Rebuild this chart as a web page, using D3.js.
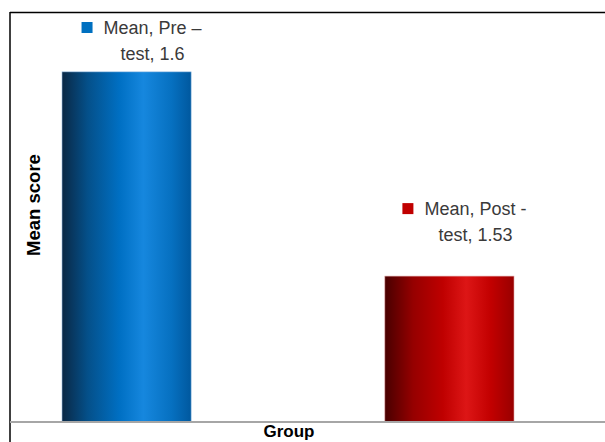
<!DOCTYPE html>
<html><head><meta charset="utf-8">
<script src="https://cdn.jsdelivr.net/npm/d3@7"></script>
<style>body{margin:0;background:#fff}svg{display:block}</style>
</head><body>
<svg id="c" width="605" height="442"></svg>
<script>
const groups = ["Pre – test", "Post - test"];
const labelLine1 = ["Mean, Pre –", "Mean, Post -"];
const labelLine2 = ["test, 1.6", "test, 1.53"];
const means = [1.6, 1.53];
const yDomain = [1.48, 1.62];

const svg = d3.select("#c");
const x = d3.scaleBand().domain(groups).range([62, 514]).paddingInner(0.6).paddingOuter(0);
const y = d3.scaleLinear().domain(yDomain).range([422, 13.5]);

const defs = svg.append("defs");
const grads = [
  [[0,"#0a2845"],[0.2,"#04508a"],[0.45,"#0070c4"],[0.63,"#1687de"],[0.85,"#0670c0"],[1,"#00589e"]],
  [[0,"#480000"],[0.22,"#960000"],[0.45,"#bf0000"],[0.63,"#dd1616"],[0.82,"#c20000"],[1,"#980000"]]
];
const swatch = ["#0070c0", "#c00000"];
grads.forEach((stops,i)=>{
  const g = defs.append("linearGradient").attr("id","g"+i).attr("x1","0").attr("x2","1").attr("y1","0").attr("y2","0");
  stops.forEach(s=>g.append("stop").attr("offset",s[0]).attr("stop-color",s[1]));
});

// frame
svg.append("line").attr("x1",10).attr("x2",605).attr("y1",12.5).attr("y2",12.5).attr("stroke","#000").attr("stroke-width",1.5);
svg.append("line").attr("x1",10).attr("x2",10).attr("y1",12).attr("y2",442).attr("stroke","#000").attr("stroke-width",1.5);

// bars
svg.selectAll("rect.bar").data(means).join("rect").attr("class","bar")
  .attr("x",(d,i)=>x(groups[i]))
  .attr("width",x.bandwidth())
  .attr("y",d=>y(d))
  .attr("height",d=>y(yDomain[0])-y(d))
  .attr("fill",(d,i)=>`url(#g${i})`)
  .attr("stroke",(d,i)=>i===0?"#9cc0e4":"#e0a0a0").attr("stroke-width",0.6);

// baseline axis
const xAxis = d3.axisBottom(x).tickSize(0).tickFormat("");
const ax = svg.append("g").attr("transform",`translate(0,${y(yDomain[0])})`).call(xAxis);
ax.select(".domain").remove();
svg.append("line").attr("x1",10).attr("x2",605).attr("y1",y(yDomain[0])).attr("y2",y(yDomain[0])).attr("stroke","#a6a6a6").attr("stroke-width",2);

// data labels
const font = "'Liberation Sans', Arial, sans-serif";
means.forEach((v,i)=>{
  const cx = x(groups[i]) + x.bandwidth()/2 + 26;
  const b1 = Math.max(34, y(v) - 61);
  const t1 = svg.append("text").attr("x",cx).attr("y",b1).attr("text-anchor","middle")
    .attr("font-family",font).attr("font-size",18).attr("fill","#3a3a3a").text(labelLine1[i]);
  const w = t1.node().getComputedTextLength();
  svg.append("rect").attr("x",cx - w/2 - 22).attr("y",b1-12).attr("width",11).attr("height",11).attr("fill",swatch[i]);
  svg.append("text").attr("x",cx).attr("y",b1+26).attr("text-anchor","middle")
    .attr("font-family",font).attr("font-size",18).attr("fill","#3a3a3a").text(labelLine2[i]);
});

// axis titles
svg.append("text").attr("x",289).attr("y",437).attr("text-anchor","middle")
  .attr("font-family",font).attr("font-weight","bold").attr("font-size",17).attr("fill","#000").text("Group");
svg.append("text").attr("transform","translate(40,205) rotate(-90)").attr("text-anchor","middle")
  .attr("font-family",font).attr("font-weight","bold").attr("font-size",18.5).attr("fill","#000").text("Mean score");
</script>
</body></html>
